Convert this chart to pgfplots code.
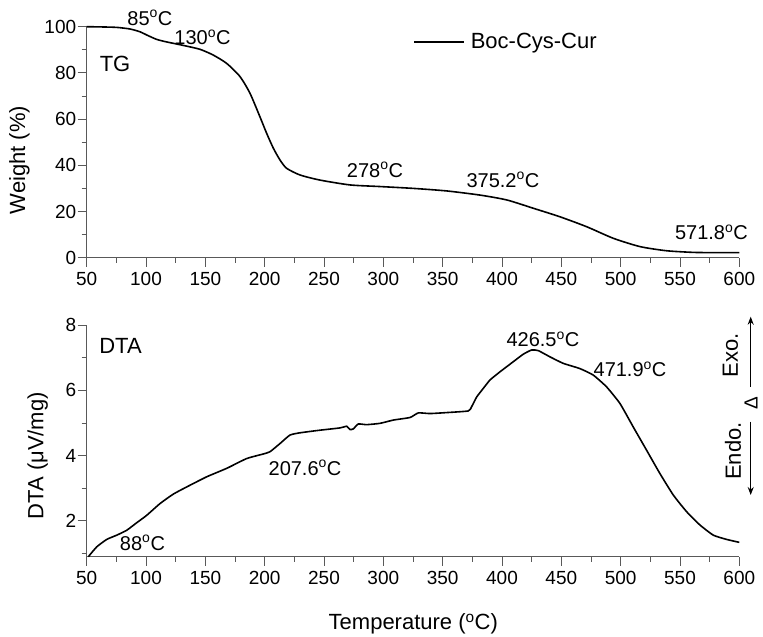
\documentclass[border=0pt]{standalone}
\usepackage{fontspec}
\setmainfont{Liberation Sans}
\usepackage{pgfplots}
\pgfplotsset{compat=1.18}
\usetikzlibrary{arrows.meta}
\tikzset{ann/.style={anchor=base, inner sep=0pt, font=\fontsize{20}{23}\selectfont},
  big/.style={anchor=base, inner sep=0pt, font=\fontsize{22}{25}\selectfont}}
\pgfplotsset{myax/.style={
  scale only axis, width=652.6pt,
  xmin=50, xmax=600,
  axis x line=bottom, axis y line=left,
  axis line style={-, black!65, line width=0.9pt},
  tick align=outside, major tick length=9pt, minor tick length=5pt,
  every tick/.style={black!65, line width=0.9pt},
  xtick={50,100,...,600}, minor xtick={75,125,...,575},
  tick label style={font=\fontsize{19}{22}\selectfont},
  xticklabel style={yshift=-2pt},
  yticklabel style={xshift=2pt},
  /pgf/number format/assume math mode=true,
  clip=false,
}}
\begin{document}
\begin{tikzpicture}
\useasboundingbox (0pt,0pt) rectangle (763pt,637pt);
\begin{axis}[myax, at={(86.7pt,379.3pt)}, anchor=south west, height=231pt,
  ymin=0, ymax=100, ytick={0,20,...,100}, minor ytick={10,30,...,90},
  legend style={at={(0.5,0.934)}, anchor=west, draw=none, fill=none,
    font=\fontsize{22}{25}\selectfont, inner sep=0pt, column sep=4pt},
  legend image code/.code={\draw[line width=1.6pt,black] (0pt,0pt) -- (50pt,0pt);}]
\addplot[black, line width=1.6pt, smooth, tension=0.4] coordinates {
(50,100) (62,99.9) (75.3,99.7) (86.5,99.0) (94.9,97.8) (100.6,96.4) (109,94.5)
(117.4,93.4) (131.4,91.9) (145.5,90.2) (156.7,87.7) (168,84.1) (179.2,78.4)
(187.6,71.2) (196,61.0) (201.7,53.8) (207.3,47.4) (212.9,42.3) (218.5,38.7)
(229.8,35.8) (246.6,33.6) (271.9,31.5) (297.2,30.8) (325.3,30.0) (353.4,28.9)
(381.5,27.1) (404,25.0) (426.4,21.4) (448.9,17.7) (471.4,13.4) (493.8,8.4)
(516.3,4.8) (538.8,3.0) (561.2,2.3) (580,2.2) (600,2.2)};
\addlegendentry{Boc-Cys-Cur}
\node[ann] at (axis cs:103.3,100.7) {85\textsuperscript{o}C};
\node[ann] at (axis cs:147.6,92.1) {130\textsuperscript{o}C};
\node[big] at (axis cs:73.9,80.4) {TG};
\node[ann] at (axis cs:293,34.9) {278\textsuperscript{o}C};
\node[ann] at (axis cs:400.8,30.6) {375.2\textsuperscript{o}C};
\node[ann] at (axis cs:576.5,7.7) {571.8\textsuperscript{o}C};
\end{axis}
\begin{axis}[myax, at={(86.7pt,80.3pt)}, anchor=south west, height=231.5pt,
  ymin=0.9, ymax=8, ytick={2,4,6,8}, minor ytick={1,3,5,7}]
\addplot[black, line width=1.6pt, smooth, tension=0.3] coordinates {
(51.4,0.9) (58.4,1.20) (66.9,1.43) (75.3,1.56) (83.7,1.71) (92.1,1.94) (100.6,2.17)
(111.8,2.53) (123,2.82) (134.3,3.04) (151.1,3.35) (168,3.61) (184.8,3.91)
(198.8,4.05) (204.5,4.12) (212.9,4.37) (221.3,4.63) (229.8,4.70) (246.6,4.78)
(263.5,4.85) (269.1,4.90) (271.9,4.80) (274.7,4.82) (278.9,4.97) (285.9,4.95)
(297.2,4.99) (308.4,5.09) (322.5,5.17) (329.5,5.31) (339.3,5.29) (353.4,5.32)
(371.6,5.37) (374.4,5.50) (378.7,5.80) (384.2,6.06) (389.9,6.32) (398.3,6.57)
(409.5,6.88) (417.9,7.11) (425,7.24) (430.6,7.22) (440.4,7.03) (451.6,6.83)
(465.6,6.67) (476.9,6.47) (488.1,6.11) (499.4,5.60) (510.6,4.88) (521.8,4.17)
(533.1,3.45) (544.4,2.79) (555.6,2.28) (566.9,1.87) (578.1,1.56) (589.3,1.43)
(600,1.34)};
\node[big] at (axis cs:78.5,7.14) {DTA};
\node[ann] at (axis cs:97,1.10) {88\textsuperscript{o}C};
\node[ann] at (axis cs:234,3.40) {207.6\textsuperscript{o}C};
\node[ann] at (axis cs:434.5,7.34) {426.5\textsuperscript{o}C};
\node[ann] at (axis cs:507.9,6.42) {471.9\textsuperscript{o}C};
\end{axis}
\begin{scope}[every node/.style={font=\fontsize{22}{25}\selectfont, inner sep=0pt}]
\node[rotate=90, anchor=base] at (25pt,477pt) {Weight (\%)};
\node[rotate=90, anchor=base] at (43.3pt,181.2pt) {DTA (μV/mg)};
\node[anchor=base] at (413.3pt,7pt) {Temperature (\textsuperscript{o}C)};
\draw[-{Stealth[length=8pt,width=6pt]}, line width=1pt] (750.7pt,250.3pt) -- (750.7pt,320.3pt);
\draw[-{Stealth[length=8pt,width=6pt]}, line width=1pt] (750.7pt,215.3pt) -- (750.7pt,142pt);
\node[rotate=90] at (730.5pt,282pt) {Exo.};
\node[rotate=90] at (733pt,186pt) {Endo.};
\node[rotate=90, font=\fontsize{19}{21}\selectfont] at (751pt,234pt) {Δ};
\end{scope}
\end{tikzpicture}
\end{document}
